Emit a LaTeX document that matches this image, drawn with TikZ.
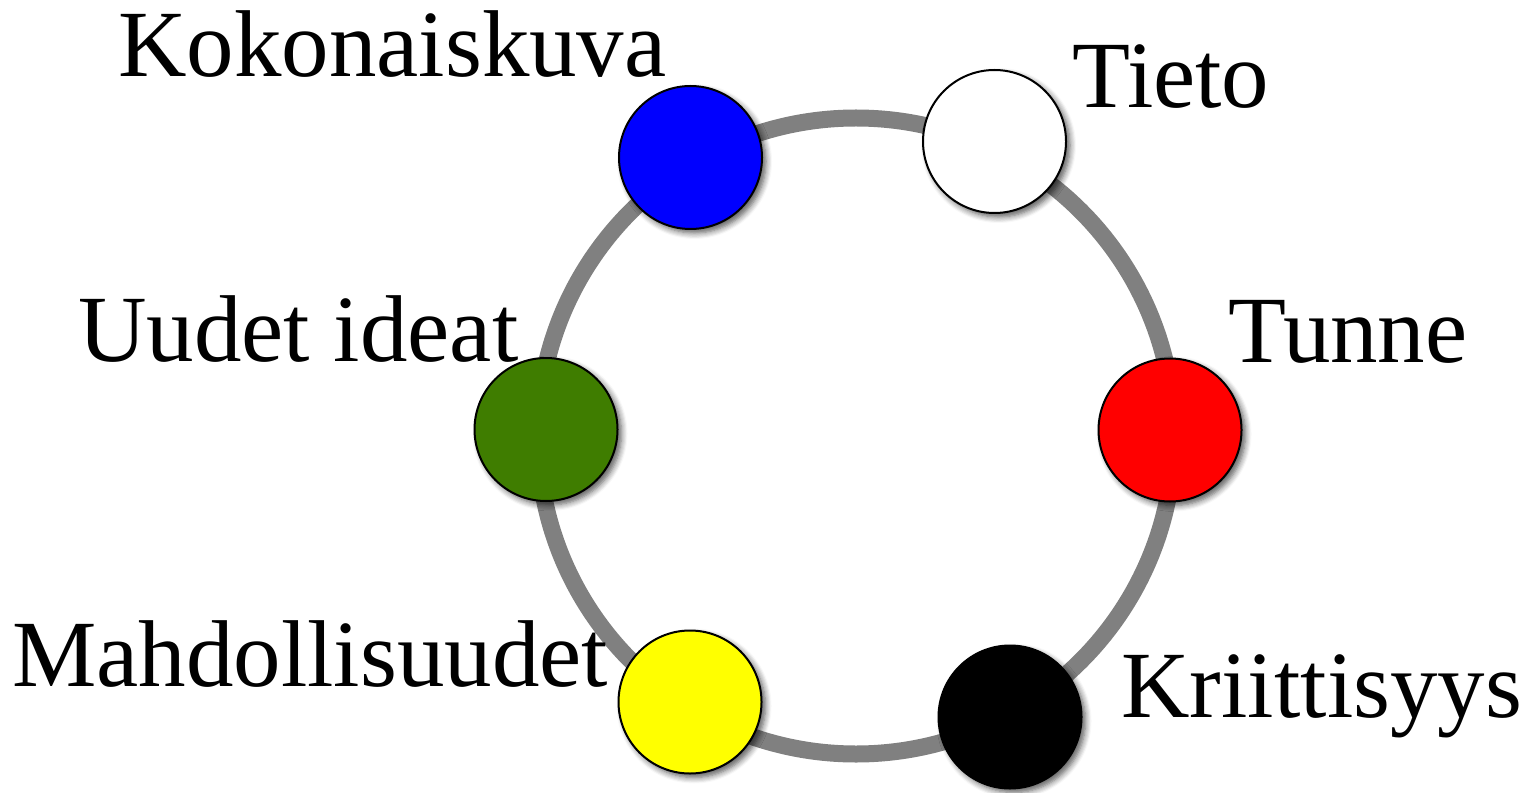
\documentclass[tikz,border=0pt]{standalone}
\usepackage{fontspec}
\setmainfont{Liberation Serif}
\usetikzlibrary{shadows.blur}
\definecolor{ringgray}{RGB}{128,128,128}
\definecolor{leafgreen}{RGB}{63,125,0}
\definecolor{discyellow}{RGB}{255,255,0}
\begin{document}
\begin{tikzpicture}[
    ringline/.style={draw=ringgray, line width=0.34cm},
    disc/.style={circle, draw=black, line width=0.04cm, minimum size=2.86cm, inner sep=0pt,
      blur shadow={shadow xshift=0.08cm, shadow yshift=-0.08cm, shadow blur steps=6,
        shadow blur radius=0.12cm, shadow opacity=65}},
    lbl/.style={inner sep=0pt, font=\fontsize{54}{60}\selectfont}
  ]
  \useasboundingbox (0,0) rectangle (30.58,15.84);

  % Ring
  \coordinate (ctr) at (17.12,7.12);
  \draw[ringline] (ctr) circle (6.36);

  % Discs
  \node[disc, fill=blue]       (kokonais) at (13.81,12.69) {};
  \node[disc, fill=white]      (tieto)    at (19.89,13.01) {};
  \node[disc, fill=leafgreen]  (ideat)    at (10.92,7.25)  {};
  \node[disc, fill=red]        (tunne)    at (23.40,7.24)  {};
  \node[disc, fill=discyellow] (mahd)     at (13.80,1.80)  {};
  \node[disc, fill=black]      (kriit)    at (20.20,1.50)  {};

  % Labels
  \node[lbl, anchor=base west] (kokonaislbl) at (2.36,14.30) {Kokonaiskuva};
  \node[lbl, anchor=base west] (tietolbl)    at (21.44,13.68) {Tieto};
  \node[lbl, anchor=base west] (ideatlbl)    at (1.56,8.60)  {Uudet ideat};
  \node[lbl, anchor=base west] (tunnelbl)    at (24.56,8.58) {Tunne};
  \node[lbl, anchor=base west] (mahdlbl)     at (0.24,2.12)  {Mahdollisuudet};
  \node[lbl, anchor=base west] (kriitlbl)    at (22.42,1.50) {Kriittisyys};

\end{tikzpicture}
\end{document}
